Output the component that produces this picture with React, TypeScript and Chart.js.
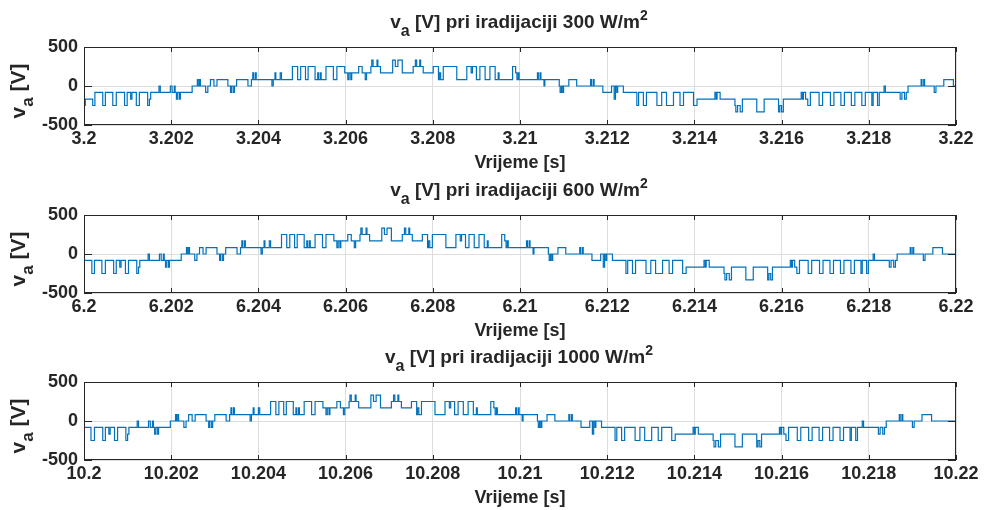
import React, { useEffect, useRef } from "react";
import { Chart, registerables } from "chart.js";

Chart.register(...registerables);

// Phase voltage waveform: [time offset in ms from window start, voltage in V]
const waveRise: [number, number][] = [
  [0, -250], [0.03, -167], [0.2, -250], [0.25, -83], [0.43, -250], [0.49, -83], [0.66, -250], [0.74, -83],
  [0.93, -250], [0.99, -83], [1.07, -167], [1.1, -83], [1.2, -250], [1.27, -83], [1.46, -250], [1.5, -167],
  [1.53, -83], [1.72, 0], [1.75, -83], [1.98, 0], [2.02, -83], [2.07, 0], [2.09, -83], [2.12, -167],
  [2.15, -83], [2.19, -167], [2.21, -83], [2.48, 0], [2.6, 83], [2.62, 0], [2.65, 83], [2.67, 0],
  [2.79, -83], [2.84, 0], [2.9, 83], [2.98, 0], [3.05, 83], [3.3, 0], [3.36, -83], [3.38, 0],
  [3.42, -83], [3.45, 0], [3.5, 83], [3.76, 0], [3.84, 83], [3.87, 167], [3.89, 83], [3.93, 167],
  [3.95, 83], [4.31, 0], [4.34, 83], [4.38, 167], [4.4, 83],
];

const wavePeak: [number, number][] = [
  [4.5, 167], [4.53, 83], [4.78, 250], [4.9, 83], [4.97, 250], [5.08, 83], [5.14, 250], [5.3, 83],
  [5.36, 167], [5.38, 83], [5.42, 167], [5.44, 83], [5.55, 250], [5.72, 83], [5.8, 250], [5.98, 167],
  [6.05, 83], [6.08, 167], [6.12, 83], [6.14, 167], [6.3, 250], [6.38, 167], [6.45, 83], [6.48, 167],
  [6.58, 250], [6.6, 333], [6.63, 250], [6.72, 333], [6.74, 250], [6.8, 167], [7.08, 333], [7.14, 250],
  [7.2, 333], [7.3, 167], [7.55, 250], [7.6, 333], [7.63, 250], [7.7, 333], [7.72, 250], [7.78, 167],
  [8.01, 250], [8.13, 83], [8.15, 167], [8.18, 83], [8.24, 250], [8.55, 83], [8.78, 250], [8.88, 167],
  [8.91, 250], [9.0, 83], [9.08, 250], [9.2, 83], [9.31, 250], [9.43, 83], [9.5, 167], [9.52, 83],
  [9.83, 250], [9.9, 167], [9.93, 83], [9.96, 167], [9.98, 83],
];

const waveFall: [number, number][] = [
  [10.4, 167], [10.42, 83], [10.46, 167], [10.48, 83], [10.55, 0], [10.57, 83], [10.9, 0], [10.92, -83],
  [10.95, 0], [10.98, -83], [11.0, 0], [11.12, 83], [11.3, 0], [11.62, 83], [11.64, 0], [11.68, 83],
  [11.7, 0], [11.9, -83], [12.1, 0], [12.16, -167], [12.19, 0], [12.22, -83], [12.24, 0], [12.37, -83],
  [12.68, -250], [12.72, -83], [12.83, -250], [12.9, -83], [13.14, -250], [13.25, -83], [13.36, -250],
  [13.52, -83], [13.67, -250], [13.75, -83], [13.98, -250], [14.06, -167],
];

const waveTrough: [number, number][] = [
  [14.47, -83], [14.5, -167], [14.52, -83], [14.59, -167], [14.93, -250], [14.95, -333], [14.99, -250],
  [15.05, -333], [15.1, -167], [15.43, -333], [15.6, -167], [15.93, -333], [15.96, -250], [16.0, -333],
  [16.04, -167], [16.45, -83], [16.48, -167], [16.5, -83], [16.55, -167], [16.6, -250], [16.66, -83],
  [16.86, -250], [16.94, -83], [17.12, -250], [17.2, -83], [17.36, -250], [17.44, -83], [17.6, -250],
  [17.68, -83], [17.84, -250], [17.92, -83], [18.07, -250], [18.1, -83], [18.2, -250], [18.24, -83],
  [18.35, 0], [18.38, -83], [18.72, -167], [18.76, -83], [18.82, -167], [18.86, -83], [18.9, 0],
  [19.2, 83], [19.22, 0], [19.26, 83], [19.28, 0], [19.5, -83], [19.54, 0], [19.72, 83], [19.94, 0],
];

const irradiances = [300, 600, 1000];
const windowStarts = [3.2, 6.2, 10.2];
const timeShiftsMs = [0, 0.25, 0.5];
const windowLengthMs = 20;
const xTickOffsets = [0, 0.002, 0.004, 0.006, 0.008, 0.01, 0.012, 0.014, 0.016, 0.018, 0.02];
const yTicks = [-500, 0, 500];

const FONT = "'Liberation Sans', Arial, Helvetica, sans-serif";
const TEXT = "#262626";
const LINE = "#0072BD";
const GRID = "#dedede";
const CANVAS_H = 175;
const PANEL_TOPS = [0, 168, 335];

const waveform = [...waveRise, ...wavePeak, ...waveFall, ...waveTrough];

function buildSeries(start: number, shift: number) {
  let init = waveform[0][1];
  for (const [t, v] of waveform) if (t <= shift) init = v;
  const pts: { x: number; y: number }[] = [{ x: start, y: init }];
  for (const [t, v] of waveform) {
    const tt = t - shift;
    if (tt > 0 && tt < windowLengthMs) pts.push({ x: start + tt / 1000, y: v });
  }
  pts.push({ x: start + windowLengthMs / 1000, y: pts[pts.length - 1].y });
  return pts;
}

type Part = { text: string; size: number; dy: number };

function drawRich(ctx: CanvasRenderingContext2D, parts: Part[], cx: number, baseline: number) {
  let total = 0;
  const widths = parts.map((p) => {
    ctx.font = `bold ${p.size}px ${FONT}`;
    const w = ctx.measureText(p.text).width;
    total += w;
    return w;
  });
  let x = cx - total / 2;
  ctx.textAlign = "left";
  ctx.textBaseline = "alphabetic";
  parts.forEach((p, i) => {
    ctx.font = `bold ${p.size}px ${FONT}`;
    ctx.fillText(p.text, x, baseline + p.dy);
    x += widths[i];
  });
}

function Panel({ index }: { index: number }) {
  const ref = useRef<HTMLCanvasElement | null>(null);
  useEffect(() => {
    const canvas = ref.current;
    if (!canvas) return;
    const start = windowStarts[index];
    const irr = irradiances[index];
    const decor = {
      id: "matlabDecor",
      afterDraw(chart: any) {
        const { ctx, chartArea } = chart;
        const xs = chart.scales.x;
        const ys = chart.scales.y;
        const { left, right, top, bottom } = chartArea;
        ctx.save();
        ctx.strokeStyle = TEXT;
        ctx.lineWidth = 1;
        ctx.beginPath();
        for (const o of xTickOffsets) {
          const px = Math.round(xs.getPixelForValue(start + o)) + 0.5;
          ctx.moveTo(px, bottom);
          ctx.lineTo(px, bottom - 5);
          ctx.moveTo(px, top);
          ctx.lineTo(px, top + 5);
        }
        for (const v of yTicks) {
          const py = Math.round(ys.getPixelForValue(v)) + 0.5;
          ctx.moveTo(left, py);
          ctx.lineTo(left + 8, py);
          ctx.moveTo(right, py);
          ctx.lineTo(right - 8, py);
        }
        ctx.stroke();
        ctx.strokeRect(Math.round(left) + 0.5, Math.round(top) + 0.5, Math.round(right - left) - 1, Math.round(bottom - top) - 1);
        ctx.fillStyle = TEXT;
        // title
        drawRich(
          ctx,
          [
            { text: "v", size: 19, dy: 0 },
            { text: "a", size: 16, dy: 8 },
            { text: ` [V] pri iradijaciji ${irr} W/m`, size: 19, dy: 0 },
            { text: "2", size: 14, dy: -8 },
          ],
          519,
          28
        );
        // x label
        drawRich(ctx, [{ text: "Vrijeme [s]", size: 18, dy: 0 }], 520, 168);
        // y label (rotated)
        ctx.save();
        ctx.translate(25, 91);
        ctx.rotate(-Math.PI / 2);
        drawRich(
          ctx,
          [
            { text: "v", size: 21, dy: 0 },
            { text: "a", size: 17, dy: 8 },
            { text: " [V]", size: 21, dy: 0 },
          ],
          0,
          0
        );
        ctx.restore();
        ctx.restore();
      },
    };
    const tickFont = { family: FONT, size: 18, weight: "bold" as const };
    const chart = new Chart(canvas, {
      type: "line",
      data: {
        datasets: [
          {
            data: buildSeries(start, timeShiftsMs[index]),
            borderColor: LINE,
            borderWidth: 1.2,
            pointRadius: 0,
            stepped: true,
            fill: false,
          },
        ],
      },
      options: {
        animation: false,
        responsive: false,
        maintainAspectRatio: false,
        devicePixelRatio: 1,
        layout: { padding: { top: 47, right: 28, left: 0, bottom: 0 } },
        plugins: { legend: { display: false }, tooltip: { enabled: false }, title: { display: false } },
        scales: {
          x: {
            type: "linear",
            min: start,
            max: start + 0.02,
            afterFit: (s: any) => {
              s.height = 50;
            },
            afterBuildTicks: (s: any) => {
              s.ticks = xTickOffsets.map((o) => ({ value: start + o }));
            },
            ticks: {
              autoSkip: false,
              maxRotation: 0,
              padding: 3,
              color: TEXT,
              font: tickFont,
              callback: (v: any) => String(parseFloat(Number(v).toFixed(4))),
            },
            grid: { color: GRID, drawTicks: false, lineWidth: 1 },
            border: { display: false },
          },
          y: {
            type: "linear",
            min: -500,
            max: 500,
            afterFit: (s: any) => {
              s.width = 84;
            },
            afterBuildTicks: (s: any) => {
              s.ticks = yTicks.map((v) => ({ value: v }));
            },
            ticks: { padding: 6, color: TEXT, font: tickFont, callback: (v: any) => String(v) },
            grid: { color: GRID, drawTicks: false, lineWidth: 1 },
            border: { display: false },
          },
        },
      },
      plugins: [decor],
    });
    return () => chart.destroy();
  }, [index]);
  return (
    <canvas
      ref={ref}
      width={984}
      height={CANVAS_H}
      style={{ position: "absolute", left: 0, top: PANEL_TOPS[index], width: 984, height: CANVAS_H, display: "block" }}
    />
  );
}

export default function App() {
  return (
    <div style={{ position: "absolute", left: 0, top: 0, width: 984, height: 510, background: "#fff", overflow: "hidden" }}>
      {irradiances.map((_, i) => (
        <Panel key={i} index={i} />
      ))}
    </div>
  );
}
